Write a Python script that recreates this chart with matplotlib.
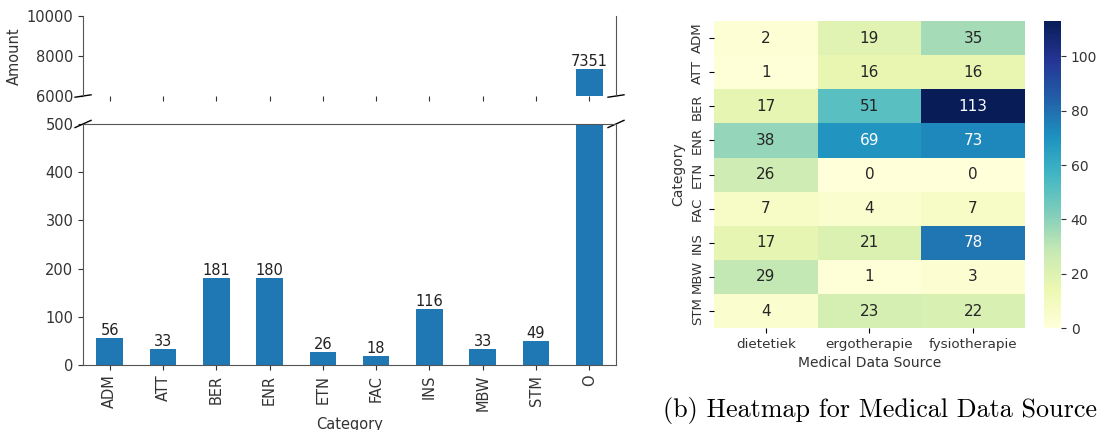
import numpy as np
import pandas as pd
import matplotlib
matplotlib.use('Agg')
import matplotlib.pyplot as plt
import seaborn as sns

# bar chart data
categories = ['ADM', 'ATT', 'BER', 'ENR', 'ETN', 'FAC', 'INS', 'MBW', 'STM', 'O']
amounts = [56, 33, 181, 180, 26, 18, 116, 33, 49, 7351]

# heatmap data
heat_rows = ['ADM', 'ATT', 'BER', 'ENR', 'ETN', 'FAC', 'INS', 'MBW', 'STM']
heat_cols = ['dietetiek', 'ergotherapie', 'fysiotherapie']
dietetiek = [2, 1, 17, 38, 26, 7, 17, 29, 4]
ergotherapie = [19, 16, 51, 69, 0, 4, 21, 1, 23]
fysiotherapie = [35, 16, 113, 73, 0, 7, 78, 3, 22]

fig = plt.figure(figsize=(11, 4.3), dpi=100)
spine_col = '#555555'
fs = 10.5

ax_top = fig.add_axes([0.0755, 0.7767, 0.4845, 0.186])
ax_bot = fig.add_axes([0.0755, 0.1512, 0.4845, 0.5605])

x = np.arange(len(categories))
for ax in (ax_top, ax_bot):
    ax.bar(x, amounts, width=0.5, color='#1f77b4')
    ax.set_xlim(-0.5, len(categories) - 0.5)
    for s in ax.spines.values():
        s.set_color(spine_col)
    ax.tick_params(colors='#333333', labelsize=fs)

ax_top.set_ylim(6000, 10000)
ax_top.set_yticks([6000, 8000, 10000])
ax_bot.set_ylim(0, 500)
ax_bot.set_yticks(range(0, 501, 100))

ax_top.spines['top'].set_visible(False)
ax_top.spines['bottom'].set_visible(False)
ax_top.set_xticks(x)
ax_top.set_xticklabels([])

ax_bot.set_xticks(x)
ax_bot.set_xticklabels(categories, rotation=90)

# value labels
for i, v in enumerate(amounts):
    if v > 500:
        ax_top.text(i, v, str(v), ha='center', va='bottom', fontsize=fs, color='#222222')
    else:
        ax_bot.text(i, v, str(v), ha='center', va='bottom', fontsize=fs, color='#222222')

# break marks
d = .015
kw = dict(transform=ax_top.transAxes, color='k', clip_on=False, lw=1)
ax_top.plot((-d, +d), (-d, +d), **kw)
ax_top.plot((1 - d, 1 + d), (-d, +d), **kw)
kw.update(transform=ax_bot.transAxes)
ax_bot.plot((-d, +d), (1 - d, 1 + d), **kw)
ax_bot.plot((1 - d, 1 + d), (1 - d, 1 + d), **kw)

ax_top.set_ylabel('Amount', fontsize=fs, color='#333333')
ax_top.yaxis.set_label_coords(-0.115, 0.5)
ax_bot.set_xlabel('Category', fontsize=fs, color='#333333')

# heatmap
table = pd.DataFrame({'dietetiek': dietetiek, 'ergotherapie': ergotherapie,
                      'fysiotherapie': fysiotherapie}, index=heat_rows)
ax_h = fig.add_axes([0.649, 0.237, 0.2827, 0.714])
ax_cb = fig.add_axes([0.949, 0.237, 0.0155, 0.714])
sns.heatmap(table, ax=ax_h, cbar_ax=ax_cb, cmap='YlGnBu', annot=True, fmt='d',
            vmin=0, annot_kws={'fontsize': 11})
hfs = 10
ax_h.set_yticklabels(heat_rows, rotation=90, va='center', fontsize=9.5, color='#333333')
ax_h.set_xticklabels(heat_cols, rotation=0, fontsize=9.7, color='#333333')
ax_h.set_ylabel('Category', fontsize=hfs, color='#333333')
ax_h.set_xlabel('Medical Data Source', fontsize=hfs, color='#333333')
ax_cb.tick_params(labelsize=hfs, colors='#333333')
ax_cb.set_yticks(range(0, 101, 20))

fig.text(0.6025, 0.03, '(b) Heatmap for Medical Data Source', fontsize=18.8,
         family='cmr10', ha='left', va='baseline')

fig.savefig('out.png', dpi=100)
